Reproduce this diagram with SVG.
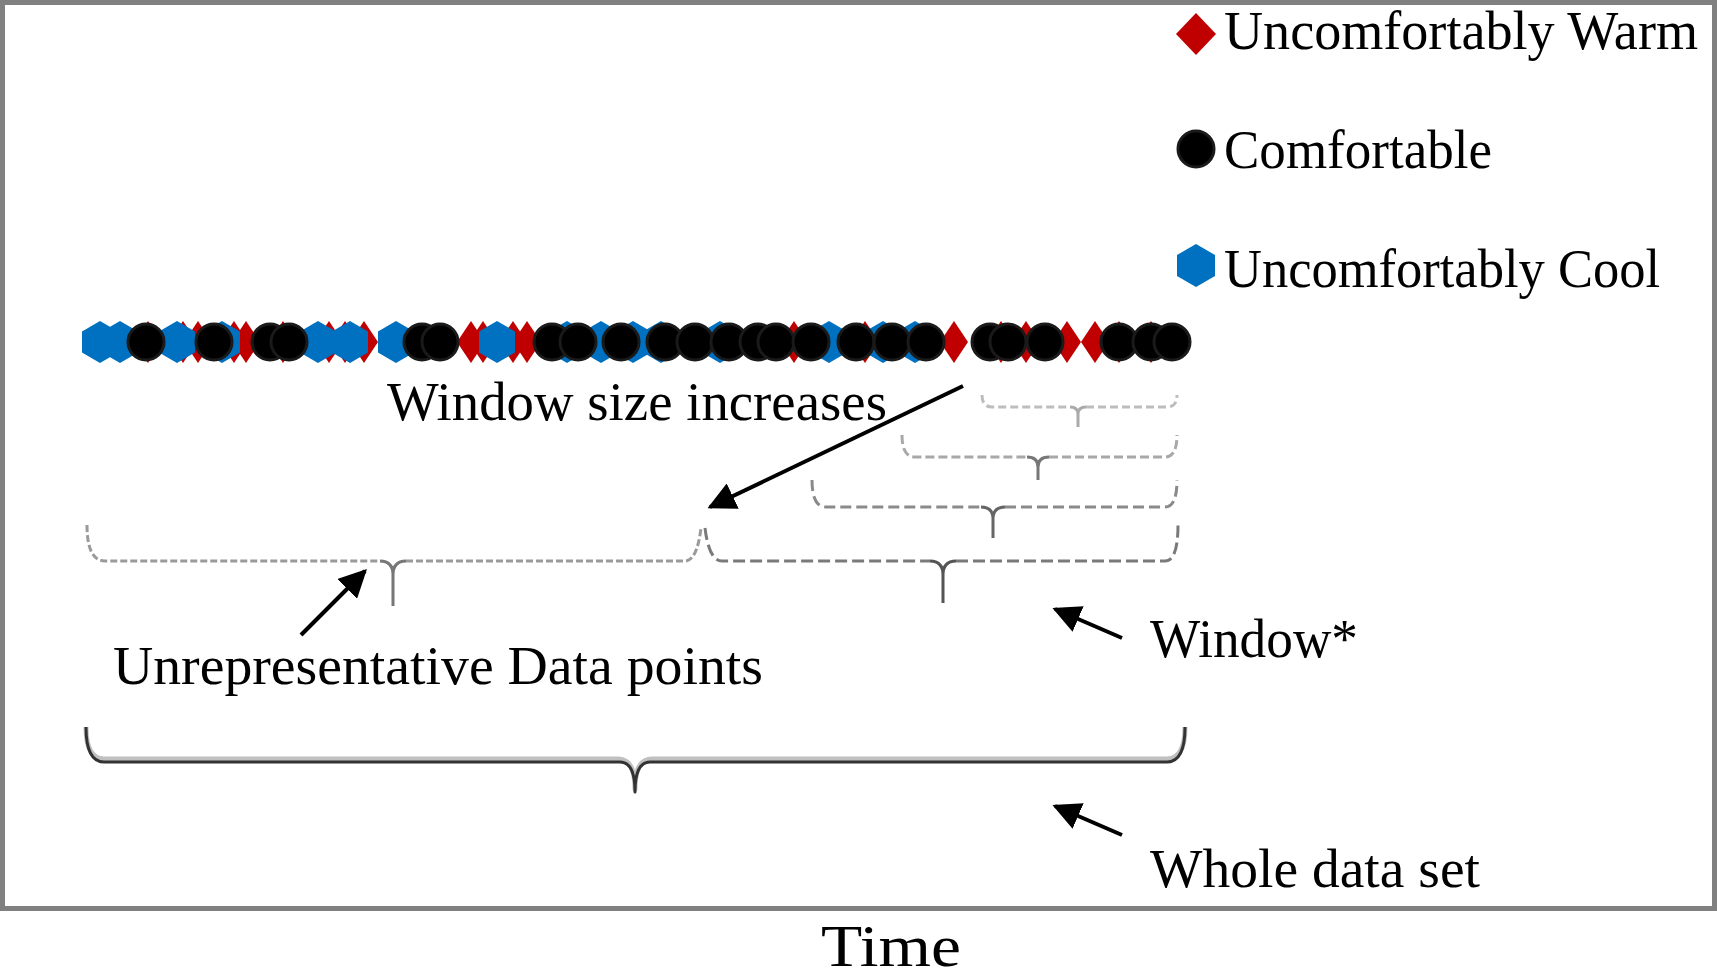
<svg xmlns="http://www.w3.org/2000/svg" width="1717" height="980" viewBox="0 0 1717 980">
<defs>
<style>
.t{font-family:"Liberation Serif","DejaVu Serif",serif;font-size:54px;fill:#000}
.r{fill:#c00000}
.b{fill:#0070c0}
.c{fill:#000;stroke:#1a1a1a;stroke-width:3}
.br{fill:none;stroke-linecap:butt;stroke-linejoin:round}
.ar{stroke:#000;stroke-width:4;fill:none}
</style>
<polygon id="dia" points="0,-21 14,0 0,21 -14,0"/>
<polygon id="hex" points="0,-21 18,-10.5 18,10.5 0,21 -18,10.5 -18,-10.5"/>
<marker id="ah" viewBox="0 0 10 10" refX="9" refY="5" markerWidth="7" markerHeight="7" markerUnits="strokeWidth" orient="auto">
<path d="M0,0 L10,5 L0,10 z" fill="#000"/>
</marker>
</defs>
<rect x="0" y="0" width="1717" height="980" fill="#fff"/>
<rect id="frame" x="2.5" y="2.5" width="1712" height="906" fill="none" stroke="#808080" stroke-width="5"/>

<g id="legend">
<g id="leg-warm">
<polygon class="r" points="1196,13 1216,34 1196,55 1176,34"/>
<text class="t" x="1224" y="49" textLength="474" lengthAdjust="spacingAndGlyphs">Uncomfortably Warm</text>
</g>
<g id="leg-comf">
<circle cx="1196" cy="149" r="18" class="c"/>
<text class="t" x="1224" y="168" textLength="268" lengthAdjust="spacingAndGlyphs">Comfortable</text>
</g>
<g id="leg-cool">
<polygon class="b" points="1196,244 1215,255 1215,276 1196,287 1177,276 1177,255"/>
<text class="t" x="1224" y="287" textLength="436" lengthAdjust="spacingAndGlyphs">Uncomfortably Cool</text>
</g>
</g>

<g id="data-points" transform="translate(0,342)">
<g id="warm-points" class="r">
<use href="#dia" x="148"/><use href="#dia" x="183"/><use href="#dia" x="198"/><use href="#dia" x="234"/><use href="#dia" x="246"/><use href="#dia" x="283"/><use href="#dia" x="329"/><use href="#dia" x="345"/><use href="#dia" x="364"/><use href="#dia" x="471"/><use href="#dia" x="483"/><use href="#dia" x="513"/><use href="#dia" x="527"/><use href="#dia" x="794"/><use href="#dia" x="865"/><use href="#dia" x="954"/><use href="#dia" x="1001"/><use href="#dia" x="1026"/><use href="#dia" x="1067"/><use href="#dia" x="1095"/><use href="#dia" x="1119"/><use href="#dia" x="1151"/>
</g>
<g id="cool-points" class="b">
<use href="#hex" x="100"/><use href="#hex" x="120"/><use href="#hex" x="177"/><use href="#hex" x="222"/><use href="#hex" x="318"/><use href="#hex" x="350"/><use href="#hex" x="396"/><use href="#hex" x="497"/><use href="#hex" x="567"/><use href="#hex" x="601"/><use href="#hex" x="633"/><use href="#hex" x="661"/><use href="#hex" x="720"/><use href="#hex" x="829"/><use href="#hex" x="883"/><use href="#hex" x="915"/>
</g>
<g id="comfortable-points" class="c">
<circle cx="146" r="18"/><circle cx="214" r="18"/><circle cx="270" r="18"/><circle cx="289" r="18"/><circle cx="422" r="18"/><circle cx="440" r="18"/><circle cx="552" r="18"/><circle cx="578" r="18"/><circle cx="621" r="18"/><circle cx="665" r="18"/><circle cx="695" r="18"/><circle cx="729" r="18"/><circle cx="758" r="18"/><circle cx="776" r="18"/><circle cx="811" r="18"/><circle cx="856" r="18"/><circle cx="892" r="18"/><circle cx="926" r="18"/><circle cx="990" r="18"/><circle cx="1008" r="18"/><circle cx="1045" r="18"/><circle cx="1119" r="18"/><circle cx="1151" r="18"/><circle cx="1172" r="18"/>
</g>
</g>

<g id="braces">
<g id="brace-unrep">
<path class="br" stroke="#9a9a9a" stroke-width="3" stroke-dasharray="7,3" d="M87,525 Q87,561 105,561 L380,561 M406,561 L685,561 Q697,561 701,528"/>
<path class="br" stroke="#777" stroke-width="3" d="M380,561 Q393,561 393,575 Q393,561 406,561 M393,575 L393,606"/>
</g>
<g id="brace-window">
<path class="br" stroke="#7a7a7a" stroke-width="3" stroke-dasharray="12,5" d="M705,528 Q709,561 722,561 L930,561 M956,561 L1165,561 Q1178,561 1178,525"/>
<path class="br" stroke="#555" stroke-width="3" d="M930,561 Q943,561 943,575 Q943,561 956,561 M943,575 L943,603"/>
</g>
<g id="brace-3">
<path class="br" stroke="#8a8a8a" stroke-width="3" stroke-dasharray="11,5" d="M812,480 Q812,507 826,507 L981,507 M1005,507 L1165,507 Q1177,507 1177,480"/>
<path class="br" stroke="#666" stroke-width="3" d="M981,507 Q993,507 993,519 Q993,507 1005,507 M993,519 L993,538"/>
</g>
<g id="brace-4">
<path class="br" stroke="#a8a8a8" stroke-width="3" stroke-dasharray="9,4" d="M902,435 Q902,457 915,457 L1027,457 M1049,457 L1165,457 Q1177,457 1177,435"/>
<path class="br" stroke="#777" stroke-width="3" d="M1027,457 Q1038,457 1038,467 Q1038,457 1049,457 M1038,467 L1038,480"/>
</g>
<g id="brace-5">
<path class="br" stroke="#bdbdbd" stroke-width="3" stroke-dasharray="8,4" d="M982,395 Q982,407 992,407 L1070,407 M1086,407 L1167,407 Q1177,407 1177,395"/>
<path class="br" stroke="#aaa" stroke-width="3" d="M1070,407 Q1078,407 1078,414 Q1078,407 1086,407 M1078,414 L1078,427"/>
</g>
<g id="brace-whole">
<path class="br" stroke="#c0c0c0" stroke-width="5" d="M86,727 Q86,759 104,759 L618,759 Q635,759 635,789 Q635,759 652,759 L1167,759 Q1185,759 1185,727"/>
<path class="br" stroke="#333" stroke-width="3" d="M86,727 Q86,762 104,762 L620,762 Q635,762 635,792 Q635,762 650,762 L1167,762 Q1185,762 1185,727"/>
</g>
</g>

<g id="labels">
<text class="t" x="387" y="420" textLength="500" lengthAdjust="spacingAndGlyphs">Window size increases</text>
<text class="t" x="113" y="684" textLength="650" lengthAdjust="spacingAndGlyphs">Unrepresentative Data points</text>
<text class="t" x="1150" y="657" textLength="208" lengthAdjust="spacingAndGlyphs">Window*</text>
<text class="t" x="1150" y="887" textLength="330" lengthAdjust="spacingAndGlyphs">Whole data set</text>
<text class="t" x="821" y="966" style="font-size:60px" textLength="140" lengthAdjust="spacingAndGlyphs">Time</text>
</g>

<g id="connectors">
<line class="ar" x1="963" y1="386" x2="710" y2="507" marker-end="url(#ah)"/>
<line class="ar" x1="301" y1="635" x2="365" y2="571" marker-end="url(#ah)"/>
<line class="ar" x1="1122" y1="638" x2="1055" y2="609" marker-end="url(#ah)"/>
<line class="ar" x1="1122" y1="835" x2="1055" y2="806" marker-end="url(#ah)"/>
</g>
</svg>
